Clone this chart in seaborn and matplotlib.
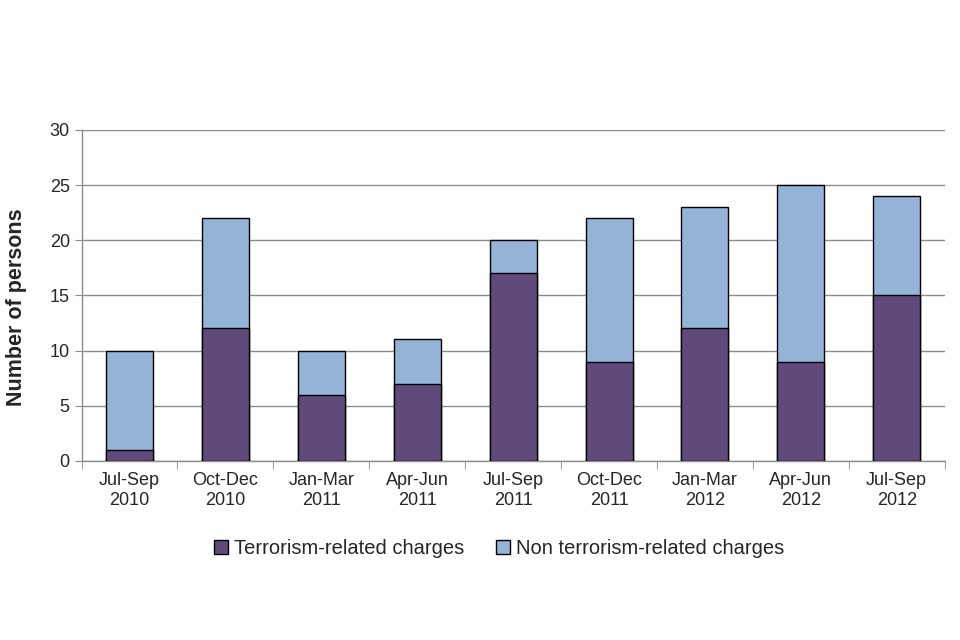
import pandas as pd
import seaborn as sns
import matplotlib.pyplot as plt
from matplotlib.patches import Patch

# Quarterly figures
quarters = ["Jul-Sep\n2010", "Oct-Dec\n2010", "Jan-Mar\n2011", "Apr-Jun\n2011", "Jul-Sep\n2011",
            "Oct-Dec\n2011", "Jan-Mar\n2012", "Apr-Jun\n2012", "Jul-Sep\n2012"]
terrorism = [1, 12, 6, 7, 17, 9, 12, 9, 15]
non_terrorism = [9, 10, 4, 4, 3, 13, 11, 16, 9]

df = pd.DataFrame({"quarter": quarters, "terrorism": terrorism, "non_terrorism": non_terrorism})
df["total"] = df.terrorism + df.non_terrorism

sns.set_style("white")
plt.rcParams["font.family"] = ["Liberation Sans", "DejaVu Sans"]

purple = "#604a7b"
blue = "#95b3d7"

fig = plt.figure(figsize=(9.6, 6.4), dpi=100)
ax = fig.add_axes([0.085, 0.28, 0.899, 0.517])

# stacked bars: total first, then terrorism on top of it
sns.barplot(data=df, x="quarter", y="total", color=blue, width=0.49,
            edgecolor="black", linewidth=1, saturation=1, ax=ax, zorder=3)
sns.barplot(data=df, x="quarter", y="terrorism", color=purple, width=0.49,
            edgecolor="black", linewidth=1, saturation=1, ax=ax, zorder=4)

ax.set_ylim(0, 30)
ax.set_yticks(range(0, 31, 5))
ax.set_xlim(-0.5, len(quarters) - 0.5)
ax.yaxis.grid(True, color="#8c8c8c", linewidth=1, zorder=0)
ax.set_axisbelow(True)

for s in ["top", "right"]:
    ax.spines[s].set_visible(False)
for s in ["left", "bottom"]:
    ax.spines[s].set_color("#8c8c8c")
    ax.spines[s].set_linewidth(1)

ax.set_xlabel("")
ax.set_ylabel("Number of persons", fontsize=15.5, fontweight="bold")
ax.yaxis.set_label_coords(-0.063, 0.465)
ax.tick_params(axis="y", labelsize=13, length=5, color="#8c8c8c", left=True, direction="out")
ax.tick_params(axis="x", which="major", labelsize=13, length=0, pad=8)
ax.set_xticks([i + 0.5 for i in range(-1, len(quarters))], minor=True)
ax.tick_params(axis="x", which="minor", length=6, color="#8c8c8c", bottom=True, direction="out")

handles = [Patch(facecolor=purple, edgecolor="black", label="Terrorism-related charges"),
           Patch(facecolor=blue, edgecolor="black", label="Non terrorism-related charges")]
fig.legend(handles=handles, loc="center", bbox_to_anchor=(0.52, 0.143), ncol=2, frameon=False,
           fontsize=14.5, handlelength=0.7, handleheight=0.7, handletextpad=0.3, columnspacing=1.6)

fig.savefig("out.png", dpi=100)
